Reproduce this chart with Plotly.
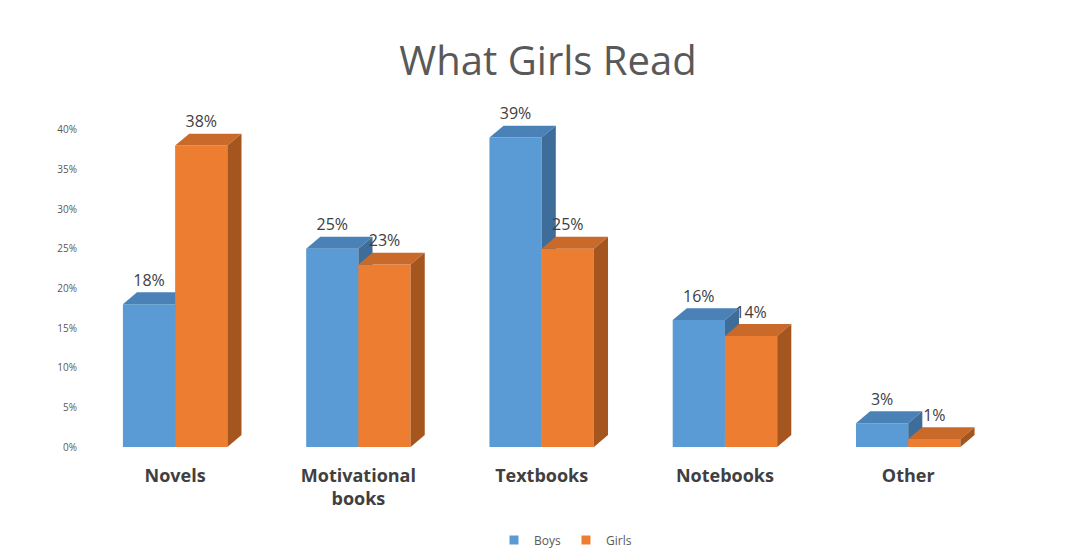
import plotly.graph_objects as go

categories = ["Novels", "Motivational<br>books", "Textbooks", "Notebooks", "Other"]
boys = [18, 25, 39, 16, 3]
girls = [38, 23, 25, 14, 1]
tick_vals = [0, 5, 10, 15, 20, 25, 30, 35, 40]
tick_text = [f"{v}%" for v in tick_vals]

W = 0.285   # bar width (x units)
DX = 0.077  # depth x
DY = 1.5    # depth y

series = [
    ("Boys", boys, -W, "#5B9BD5", "#4A82B8", "#3D6D98"),
    ("Girls", girls, 0.0, "#ED7D31", "#C96A2A", "#A5561F"),
]

fig = go.Figure()
for i in range(len(categories)):
    for name, vals, off, front, top, side in series:
        v = vals[i]
        x0 = i + off
        x1 = x0 + W
        polys = [
            ([x0, x1, x1, x0, x0], [0, 0, v, v, 0], front),
            ([x0, x1, x1 + DX, x0 + DX, x0], [v, v, v + DY, v + DY, v], top),
            ([x1, x1 + DX, x1 + DX, x1, x1], [0, DY, v + DY, v, 0], side),
        ]
        for xs, ys, c in polys:
            fig.add_trace(go.Scatter(x=xs, y=ys, fill="toself", fillcolor=c,
                                     mode="lines", line=dict(width=0, color=c),
                                     showlegend=False, hoverinfo="skip"))
        fig.add_trace(go.Scatter(x=[x0 + W / 2], y=[v + DY + 1.3], mode="text",
                                 text=[f"{v}%"], textfont=dict(size=16, color="#404040"),
                                 showlegend=False, hoverinfo="skip"))

for name, vals, off, front, top, side in series:
    fig.add_trace(go.Scatter(x=[None], y=[None], mode="markers", name=name,
                             marker=dict(symbol="square", size=9, color=front)))

fig.update_layout(
    width=1080, height=558,
    paper_bgcolor="white", plot_bgcolor="white",
    margin=dict(l=70, r=35, t=82, b=111),
    title=dict(text="What Girls Read", x=0.5, xanchor="center", y=0.93,
               font=dict(family="Open Sans", size=40, color="#595959")),
    font=dict(family="Open Sans"),
    xaxis=dict(range=[-0.53, 4.79], tickvals=list(range(len(categories))),
               ticktext=[f"<b>{c}</b>" for c in categories], showgrid=False,
               zeroline=False, showline=False,
               tickfont=dict(size=18, color="#404040"), ticklabelstandoff=16),
    yaxis=dict(range=[0, 45], tickvals=tick_vals, ticktext=tick_text, showgrid=False,
               zeroline=False, tickfont=dict(size=10, color="#595959")),
    legend=dict(orientation="h", x=0.5, xanchor="center", y=-0.22, yanchor="top",
                font=dict(size=12, color="#595959")),
)
fig.write_html("out.html")
